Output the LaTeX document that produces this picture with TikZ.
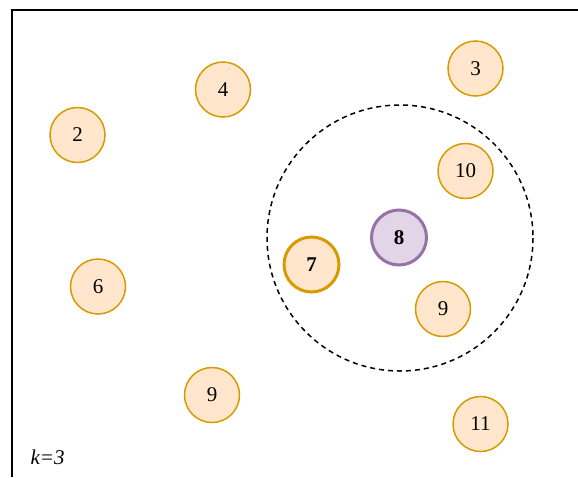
\documentclass[tikz,border=0pt]{standalone}
\usepackage{fontspec}
\setmainfont{Liberation Serif}
\usepackage{tikz}
\usetikzlibrary{positioning}
\definecolor{ptfill}{HTML}{FFE6CC}
\definecolor{ptdraw}{HTML}{D79B00}
\definecolor{qfill}{HTML}{E1D5E7}
\definecolor{qdraw}{HTML}{9673A6}
\tikzset{
  point/.style={
    shape = circle,
    draw = ptdraw,
    fill = ptfill,
    line width = 1.5pt,
    minimum size = 55pt,
    inner sep = 0pt,
    font = \fontsize{21}{21}\selectfont
  },
  nearest/.style={
    point,
    line width = 3pt,
    font = \fontsize{21}{21}\selectfont\bfseries
  },
  query/.style={
    point,
    draw = qdraw,
    fill = qfill,
    line width = 3pt,
    font = \fontsize{21}{21}\selectfont\bfseries
  },
  radius/.style={
    dashed,
    line width = 1.5pt,
    dash pattern = on 5pt off 4pt
  }
}

\begin{document}
\begin{tikzpicture}[x=1pt,y=-1pt]
        \useasboundingbox (0,0) rectangle (578,477);

        % frame
        \draw[line width=2pt] (12,477) -- (12,9.5) -- (578,9.5);

        % search radius round the query
        \coordinate (c) at (400,238);
        \draw[radius] (c) circle (133);

        \node[point] (p2) at (77.5,135) {2};
        \node[point] (p4) at (223,89.5) {4};
        \node[point] (p3) at (475.5,68.5) {3};
        \node[point] (p10) at (465.5,171) {10};
        \node[point] (p6) at (98,286.5) {6};
        \node[point] (p9a) at (443,309) {9};
        \node[point] (p9b) at (212,395) {9};
        \node[point] (p11) at (480.5,424) {11};
        \node[nearest] (p7) at (311.5,264.5) {7};
        \node[query] (q8) at (399,237.5) {8};

        \node[anchor=west, font=\fontsize{21}{21}\selectfont\itshape] (k) at (27,457) {k=3};
\end{tikzpicture}
\end{document}
